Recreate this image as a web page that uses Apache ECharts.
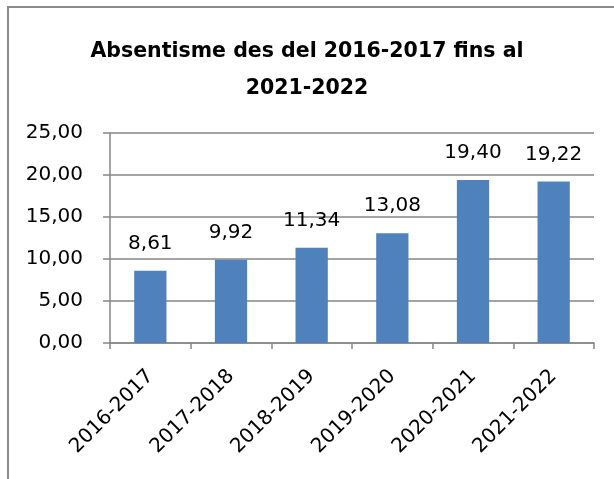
<!DOCTYPE html>
<html>
<head>
<meta charset="utf-8">
<script src="https://cdn.jsdelivr.net/npm/echarts@6/dist/echarts.min.js"></script>
<style>
  html, body { margin: 0; padding: 0; background: #fff; }
  #chart { width: 614px; height: 479px; }
</style>
</head>
<body>
<div id="chart"></div>
<script>
// Absentisme per curs
const courses = ['2016-2017', '2017-2018', '2018-2019', '2019-2020', '2020-2021', '2021-2022']
const absentism = [8.61, 9.92, 11.34, 13.08, 19.40, 19.22]
const yTicks = [0, 5, 10, 15, 20, 25]

const font = 'DejaVu Sans'
const fmt = v => Number(v).toFixed(2).replace('.', ',')

const chart = echarts.init(document.getElementById('chart'))

chart.setOption({
  backgroundColor: '#fff',
  animation: false,
  title: {
    text: 'Absentisme des del 2016-2017 fins al\n2021-2022',
    left: 'center',
    top: 28,
    textStyle: {
      fontFamily: font,
      fontWeight: 'bold',
      fontSize: 20.5,
      lineHeight: 37,
      color: '#000'
    }
  },
  graphic: [
    {
      type: 'polyline',
      shape: { points: [[8, 479], [8, 7], [614, 7]] },
      style: { stroke: '#8c8c8c', lineWidth: 2, fill: null }
    }
  ],
  grid: {
    left: 110,
    right: 20,
    top: 133,
    bottom: 136
  },
  xAxis: {
    type: 'category',
    data: courses,
    axisLine: { lineStyle: { color: '#868686', width: 1.5 } },
    axisTick: { show: true, length: 6, alignWithLabel: false, lineStyle: { color: '#868686', width: 1.5 } },
    axisLabel: {
      rotate: 45,
      interval: 0,
      margin: 30,
      fontFamily: font,
      fontSize: 20,
      color: '#000'
    }
  },
  yAxis: {
    type: 'value',
    min: yTicks[0],
    max: yTicks[yTicks.length - 1],
    interval: 5,
    axisLine: { show: true, lineStyle: { color: '#868686', width: 1.5 } },
    axisTick: { show: true, length: 7, lineStyle: { color: '#868686', width: 1.5 } },
    splitLine: { lineStyle: { color: '#868686', width: 1.5 } },
    axisLabel: {
      margin: 27,
      fontFamily: font,
      fontSize: 20,
      color: '#000',
      formatter: v => fmt(v)
    }
  },
  series: [
    {
      type: 'bar',
      data: absentism,
      barWidth: '40%',
      itemStyle: { color: '#4f81bd' },
      label: {
        show: true,
        position: 'top',
        distance: 17,
        fontFamily: font,
        fontSize: 20,
        color: '#000',
        formatter: p => fmt(p.value)
      }
    }
  ]
})
</script>
</body>
</html>
